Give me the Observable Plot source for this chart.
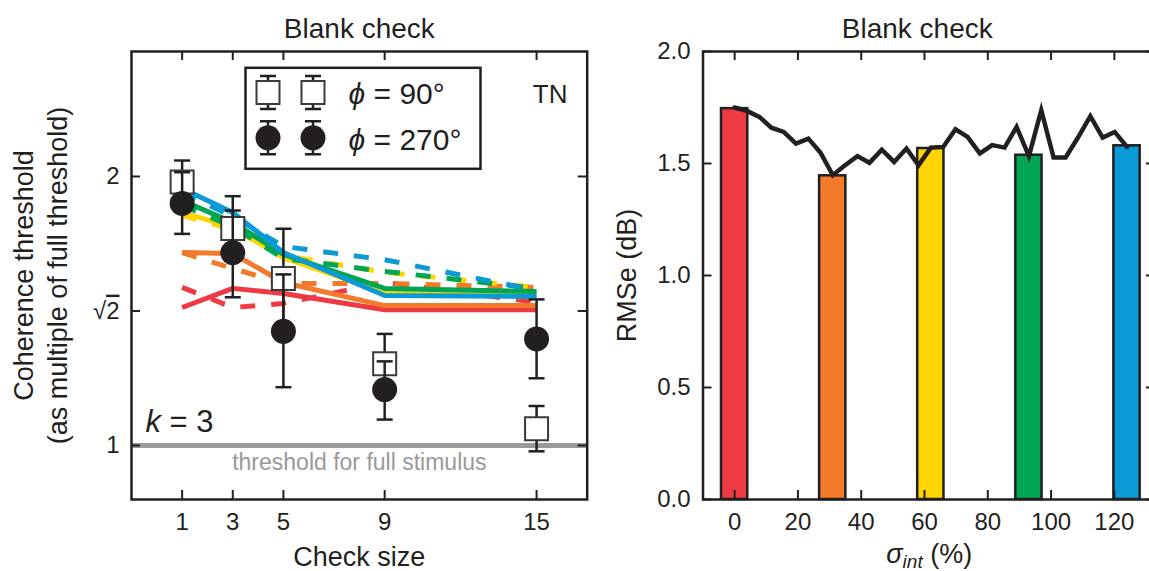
<!DOCTYPE html>
<html><head><meta charset="utf-8">
<script src="https://cdn.jsdelivr.net/npm/d3@7"></script>
<script src="https://cdn.jsdelivr.net/npm/@observablehq/plot@0.6"></script>
<style>
html,body{margin:0;padding:0;background:#fff;overflow:hidden;}
#wrap{position:relative;width:1149px;height:571px;overflow:hidden;}
#left{position:absolute;left:0;top:0;width:600px;height:571px;}
#right{position:absolute;left:600px;top:0;width:560px;height:571px;}
#wrap svg{max-width:none !important;display:block;}
</style></head><body>
<div id="wrap"><div id="left"></div><div id="right"></div></div>
<script>
// ---------- DATA (left panel) ----------
const checkSizes = [1, 3, 5, 9, 15];
const checkTickLabels = ["1", "3", "5", "9", "15"];
const thresholdTicks = [1, Math.SQRT2, 2];
const thresholdTickLabels = ["1", "√2", "2"];

// model curves (solid / dashed), per colour
const redSolid     = [1.427, 1.499, 1.479, 1.419, 1.419];
const redDashed    = [1.503, 1.427, 1.442, 1.522, 1.446];
const orangeSolid  = [1.644, 1.640, 1.522, 1.434, 1.434];
const orangeDashed = [1.644, 1.578, 1.518, 1.518, 1.503];
const yellowSolid  = [1.823, 1.754, 1.623, 1.483, 1.476];
const yellowDashed = [1.809, 1.745, 1.632, 1.562, 1.503];
const greenSolid   = [1.880, 1.777, 1.636, 1.499, 1.487];
const greenDashed  = [1.856, 1.758, 1.619, 1.566, 1.499];
const blueSolid    = [1.939, 1.823, 1.644, 1.472, 1.468];
const blueDashed   = [1.919, 1.804, 1.670, 1.614, 1.491];

// measured thresholds
const phi90Mean  = [1.972, 1.749, 1.538, 1.234, 1.044];
const phi90Lo    = [1.865, 1.610, 1.353, 1.143, 0.985];
const phi90Hi    = [2.084, 1.901, 1.748, 1.333, 1.107];
const phi270Mean = [1.866, 1.643, 1.342, 1.155, 1.316];
const phi270Lo   = [1.725, 1.465, 1.162, 1.069, 1.189];
const phi270Hi   = [2.022, 1.832, 1.554, 1.242, 1.457];

// ---------- DATA (right panel) ----------
const barSigma = [0, 31, 62, 93, 124];
const barRmse  = [1.745, 1.445, 1.567, 1.537, 1.579];
const curveSigma = [0, 3.9, 7.8, 11.6, 15.5, 19.4, 23.3, 27.1, 31, 34.9, 38.8, 42.6, 46.5, 50.4, 54.3, 58.1, 62,
  65.9, 69.8, 73.6, 77.5, 81.4, 85.3, 89.1, 93, 96.9, 100.8, 104.6, 108.5, 112.4, 116.3, 120.1, 124];
const curveRmse = [1.75, 1.735, 1.708, 1.66, 1.641, 1.589, 1.611, 1.549, 1.448, 1.492, 1.533, 1.503, 1.562, 1.507,
  1.567, 1.492, 1.571, 1.574, 1.653, 1.619, 1.545, 1.582, 1.571, 1.663, 1.533, 1.738, 1.527, 1.527, 1.616, 1.711,
  1.616, 1.641, 1.574];
const sigmaTicks = [0, 20, 40, 60, 80, 100, 120];
const sigmaTickLabels = ["0", "20", "40", "60", "80", "100", "120"];
const rmseTicks = [0, 0.5, 1, 1.5, 2];
const rmseTickLabels = ["0.0", "0.5", "1.0", "1.5", "2.0"];

// ---------- STYLE ----------
const palette = ["#EE3A43", "#F37A2B", "#FFD400", "#00A651", "#0A9BD7"];
const ink = "#231f20";
const grey = "#999999";
const font = '"Liberation Sans", Arial, Helvetica, sans-serif';
const tickLen = 9;

const models = [
  [0, redSolid, redDashed], [1, orangeSolid, orangeDashed], [2, yellowSolid, yellowDashed],
  [3, greenSolid, greenDashed], [4, blueSolid, blueDashed]
];
const toRows = vals => vals.map((v, i) => ({x: checkSizes[i], y: v}));
const rows90 = checkSizes.map((x, i) => ({x, m: phi90Mean[i], lo: phi90Lo[i], hi: phi90Hi[i]}));
const rows270 = checkSizes.map((x, i) => ({x, m: phi270Mean[i], lo: phi270Lo[i], hi: phi270Hi[i]}));

const capSym = {draw(ctx) { ctx.moveTo(-8, 0); ctx.lineTo(8, 0); }};
const legendErr = {draw(ctx) {
  ctx.moveTo(0, -16.5); ctx.lineTo(0, 16.5);
  ctx.moveTo(-8, -16.5); ctx.lineTo(8, -16.5);
  ctx.moveTo(-8, 16.5); ctx.lineTo(8, 16.5);
}};

// ---------- LEFT PLOT ----------
const LW = 600, LH = 571, Lml = 131, Lmr = 13.3, Lmt = 51, Lmb = 72;
const Lfw = LW - Lml - Lmr, Lfh = LH - Lmt - Lmb;

const lineMarks = models.flatMap(([c, solid, dashed]) => [
  Plot.line(toRows(solid), {x: "x", y: "y", stroke: palette[c], strokeWidth: 5, strokeLinecap: "butt"}),
  Plot.line(toRows(dashed), {x: "x", y: "y", stroke: palette[c], strokeWidth: 5, strokeDasharray: "15,16", strokeLinecap: "butt"})
]);

const left = Plot.plot({
  width: LW, height: LH,
  marginLeft: Lml, marginRight: Lmr, marginTop: Lmt, marginBottom: Lmb,
  x: {domain: [-1, 17], axis: null},
  y: {type: "log", base: 2, domain: [0.87, 2.76], axis: null},
  style: {fontFamily: font, fontSize: "24px", color: ink, background: "white", overflow: "visible"},
  marks: [
    Plot.ruleY([1], {y: d => d, stroke: grey, strokeWidth: 5}),
    Plot.text(["threshold for full stimulus"], {frameAnchor: "bottom", dy: -30, lineAnchor: "bottom", fontSize: 23, fill: grey}),
    ...lineMarks,
    // phi = 90
    Plot.ruleX(rows90, {x: "x", y1: "lo", y2: "hi", stroke: ink, strokeWidth: 2.5}),
    Plot.dot(rows90, {x: "x", y: "hi", symbol: capSym, r: 5, fill: "none", stroke: ink, strokeWidth: 2.5}),
    Plot.dot(rows90, {x: "x", y: "lo", symbol: capSym, r: 5, fill: "none", stroke: ink, strokeWidth: 2.5}),
    Plot.dot(rows90, {x: "x", y: "m", symbol: "square", r: 12.98, fill: "white", stroke: "#3a3a3a", strokeWidth: 2}),
    // phi = 270
    Plot.ruleX(rows270, {x: "x", y1: "lo", y2: "hi", stroke: ink, strokeWidth: 2.5}),
    Plot.dot(rows270, {x: "x", y: "hi", symbol: capSym, r: 5, fill: "none", stroke: ink, strokeWidth: 2.5}),
    Plot.dot(rows270, {x: "x", y: "lo", symbol: capSym, r: 5, fill: "none", stroke: ink, strokeWidth: 2.5}),
    Plot.dot(rows270, {x: "x", y: "m", r: 12.5, fill: ink, stroke: "none"}),
    // legend
    Plot.frame({insetLeft: 114, insetRight: 106.7, insetTop: 16.3, insetBottom: 330.7, stroke: ink, strokeWidth: 2.5, fill: "white"}),
    ...[136.5, 181.5].flatMap(dx => [
      Plot.dot([0], {frameAnchor: "top-left", dx, dy: 41, symbol: legendErr, r: 5, fill: "none", stroke: ink, strokeWidth: 2.5}),
      Plot.dot([0], {frameAnchor: "top-left", dx, dy: 41, symbol: "square", r: 12.98, fill: "white", stroke: "#3a3a3a", strokeWidth: 2}),
      Plot.dot([0], {frameAnchor: "top-left", dx, dy: 86.3, symbol: legendErr, r: 5, fill: "none", stroke: ink, strokeWidth: 2.5}),
      Plot.dot([0], {frameAnchor: "top-left", dx, dy: 86.3, r: 12.5, fill: ink, stroke: "none"})
    ]),
    Plot.text(["ϕ = 90°"], {frameAnchor: "top-left", dx: 217, dy: 52.3, textAnchor: "start", lineAnchor: "bottom", fontSize: 30, fill: ink}),
    Plot.text(["ϕ = 270°"], {frameAnchor: "top-left", dx: 217, dy: 98.3, textAnchor: "start", lineAnchor: "bottom", fontSize: 30, fill: ink}),
    Plot.text(["TN"], {frameAnchor: "top-right", dx: -19.7, dy: 51, textAnchor: "end", lineAnchor: "bottom", fontSize: 26, fill: ink}),
    Plot.text(["k = 3"], {frameAnchor: "bottom-left", dx: 14, dy: -67.3, textAnchor: "start", lineAnchor: "bottom", fontSize: 31, fill: ink}),
    // frame + inward ticks on all sides
    Plot.frame({stroke: ink, strokeWidth: 2.5}),
    Plot.ruleX(checkSizes, {x: d => d, insetTop: Lfh - tickLen, stroke: ink, strokeWidth: 2}),
    Plot.ruleX(checkSizes, {x: d => d, insetBottom: Lfh - tickLen, stroke: ink, strokeWidth: 2}),
    Plot.ruleY(thresholdTicks, {y: d => d, insetRight: Lfw - tickLen, stroke: ink, strokeWidth: 2}),
    Plot.ruleY(thresholdTicks, {y: d => d, insetLeft: Lfw - tickLen, stroke: ink, strokeWidth: 2}),
    Plot.axisX({ticks: checkSizes, tickFormat: (d, i) => checkTickLabels[i], tickSize: 0, tickPadding: 13, label: null}),
    Plot.text(thresholdTicks, {y: d => d, text: (d, i) => thresholdTickLabels[i], frameAnchor: "left", dx: -12, textAnchor: "end", lineAnchor: "middle", fontSize: 24, fill: ink}),
    Plot.text(["Check size"], {frameAnchor: "bottom", dy: 66, lineAnchor: "bottom", fontSize: 27, fill: ink}),
    Plot.text(["Coherence threshold\n(as multiple of full threshold)"], {frameAnchor: "left", dx: -92, rotate: -90, textAnchor: "middle", lineAnchor: "middle", lineHeight: 1.26, fontSize: 27, fill: ink}),
    Plot.text(["Blank check"], {frameAnchor: "top", dy: -14, lineAnchor: "bottom", fontSize: 28, fill: ink})
  ]
});
document.getElementById("left").appendChild(left);

// ---------- RIGHT PLOT ----------
const RW = 560, RH = 571, Rml = 102.5, Rmr = 5, Rmt = 51, Rmb = 72;
const Rfw = RW - Rml - Rmr, Rfh = RH - Rmt - Rmb;
const barRows = barSigma.map((s, i) => ({s, r: barRmse[i], c: palette[i]}));
const curveRows = curveSigma.map((s, i) => ({s, r: curveRmse[i]}));

const right = Plot.plot({
  width: RW, height: RH,
  marginLeft: Rml, marginRight: Rmr, marginTop: Rmt, marginBottom: Rmb,
  x: {domain: [-10, 133], axis: null},
  y: {domain: [0, 2], axis: null},
  color: {type: "identity"},
  style: {fontFamily: font, fontSize: "24px", color: ink, background: "white", overflow: "visible"},
  marks: [
    Plot.rectY(barRows, {x1: d => d.s - 4.15, x2: d => d.s + 4.15, y1: 0, y2: "r", fill: "c", stroke: ink, strokeWidth: 2.5}),
    Plot.line(curveRows, {x: "s", y: "r", stroke: ink, strokeWidth: 4.5, strokeLinejoin: "miter", strokeMiterlimit: 6}),
    Plot.frame({stroke: ink, strokeWidth: 2.5}),
    Plot.ruleX(sigmaTicks, {x: d => d, insetTop: Rfh - tickLen, stroke: ink, strokeWidth: 2}),
    Plot.ruleX(sigmaTicks, {x: d => d, insetBottom: Rfh - tickLen, stroke: ink, strokeWidth: 2}),
    Plot.ruleY(rmseTicks, {y: d => d, insetRight: Rfw - tickLen, stroke: ink, strokeWidth: 2}),
    Plot.ruleY(rmseTicks, {y: d => d, insetLeft: Rfw - tickLen, stroke: ink, strokeWidth: 2}),
    Plot.axisX({ticks: sigmaTicks, tickFormat: (d, i) => sigmaTickLabels[i], tickSize: 0, tickPadding: 13, label: null}),
    Plot.axisY({ticks: rmseTicks, tickFormat: (d, i) => rmseTickLabels[i], tickSize: 0, tickPadding: 12.5, label: null}),
    Plot.text(["σint (%)"], {frameAnchor: "bottom", dy: 63, lineAnchor: "bottom", fontSize: 27, fill: ink}),
    Plot.text(["RMSe (dB)"], {frameAnchor: "left", dx: -75.5, rotate: -90, textAnchor: "middle", lineAnchor: "middle", fontSize: 27, fill: ink}),
    Plot.text(["Blank check"], {frameAnchor: "top", dy: -14, dx: -12, lineAnchor: "bottom", fontSize: 28, fill: ink})
  ]
});
document.getElementById("right").appendChild(right);

// ---------- rich text (italics, subscripts, radical bar) ----------
function rich(root, plain, html) {
  root.querySelectorAll("text, tspan").forEach(t => {
    if (t.children.length === 0 && t.textContent === plain) t.innerHTML = html;
  });
}
rich(left, "ϕ = 90°", '<tspan font-style="italic">ϕ</tspan> = 90°');
rich(left, "ϕ = 270°", '<tspan font-style="italic">ϕ</tspan> = 270°');
rich(left, "k = 3", '<tspan font-style="italic">k</tspan> = 3');
rich(left, "√2", '√<tspan style="text-decoration:overline">2</tspan>');
rich(right, "σint (%)", '<tspan font-style="italic">σ</tspan><tspan font-style="italic" font-size="19" dy="5">int</tspan><tspan dy="-5"> (%)</tspan>');
</script>
</body></html>
